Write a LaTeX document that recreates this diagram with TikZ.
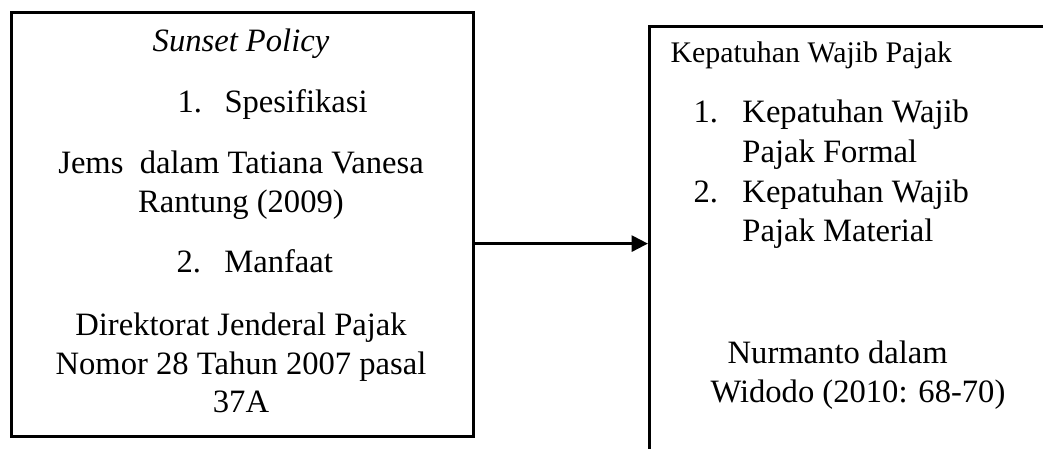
\documentclass[tikz,border=0pt]{standalone}
\usepackage{fontspec}
\setmainfont{Liberation Serif}
\usetikzlibrary{arrows.meta}

\tikzset{
	box/.style={draw=black, line width=1.2pt, inner sep=0pt},
	txt/.style={font=\fontsize{12}{14.35}\selectfont, inner sep=0pt},
}

\begin{document}
\begin{tikzpicture}[x=0.368pt, y=-0.368pt]
	\useasboundingbox (0,0) rectangle (1043,449);

	\draw (10,11) node[box, anchor=north west,
					 minimum width=170pt,
					 minimum height=156pt] (sp) {};

	\draw (648,25) node[box, anchor=north west,
					 minimum width=153.5pt,
					 minimum height=159.7pt] (kp) {};

	\draw[line width=1.2pt, -{Triangle[length=6pt, width=5.8pt]}] (sp.east |- kp.west) -- (kp.west);

	% left box (multi-line nodes sit on their last line)
	\draw (241,52) node[txt, anchor=base] (title) {\textit{Sunset Policy}};
	\draw (177,113) node[txt, anchor=base west] (item1) {\makebox[17.3pt][l]{1.}Spesifikasi};
	\draw (241,213) node[txt, anchor=base, align=center] (src1) {Jems\ \ dalam Tatiana Vanesa\\Rantung (2009)};
	\draw (176,273) node[txt, anchor=base west] (item2) {\makebox[17.6pt][l]{2.}Manfaat};
	\draw (241,413) node[txt, anchor=base, align=center] (src2) {Direktorat Jenderal Pajak\\Nomor 28 Tahun 2007 pasal\\37A};

	% right box
	\draw (670,63) node[txt, font=\fontsize{11}{13}\selectfont, anchor=base west] (head) {Kepatuhan Wajib Pajak};
	\draw (693,242) node[txt, font=\fontsize{12}{14.7}\selectfont, anchor=base west, align=left] (list)
		{\makebox[18pt][l]{1.}Kepatuhan Wajib\\\hspace*{18pt}Pajak Formal\\
		 \makebox[18pt][l]{2.}Kepatuhan Wajib\\\hspace*{18pt}Pajak Material};
	\draw (710,403) node[txt, font=\fontsize{12}{14.7}\selectfont, anchor=base west, align=left] (src3) {\hspace*{6.3pt}Nurmanto dalam\\Widodo (2010: 68-70)};
\end{tikzpicture}
\end{document}
